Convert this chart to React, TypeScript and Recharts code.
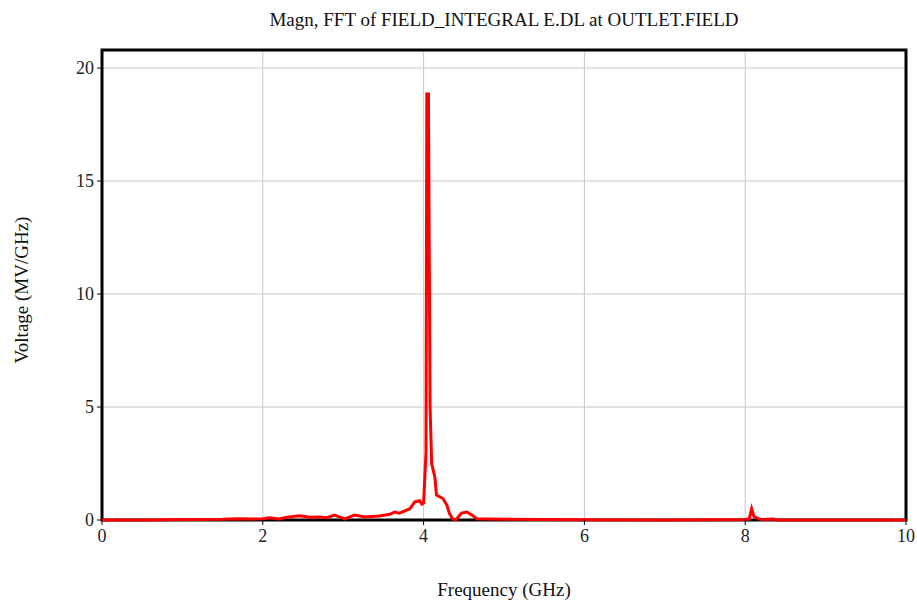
import React from "react";
import {
  LineChart,
  Line,
  XAxis,
  YAxis,
  CartesianGrid,
  ReferenceArea,
} from "recharts";

// FFT magnitude samples: frequency (GHz) and voltage (MV/GHz)
const freqs = [
  0, 0.5, 1.0, 1.5, 1.7, 1.9, 2.0, 2.08, 2.2, 2.3, 2.46, 2.58, 2.71, 2.8,
  2.89, 3.02, 3.14, 3.27, 3.35, 3.45, 3.58, 3.64, 3.7, 3.83, 3.89, 3.95,
  3.98, 4.0, 4.03, 4.04, 4.06, 4.08, 4.1, 4.14, 4.16, 4.24, 4.29, 4.32,
  4.36, 4.4, 4.47, 4.54, 4.61, 4.66, 4.8, 5.0, 5.5, 6.0, 7.0, 8.0, 8.05,
  8.08, 8.11, 8.15, 8.2, 8.35, 8.4, 9.0, 10.0,
];
const voltage = [
  0, 0, 0.02, 0.03, 0.05, 0.04, 0.06, 0.1, 0.05, 0.12, 0.19, 0.12, 0.13,
  0.1, 0.22, 0.05, 0.22, 0.13, 0.15, 0.18, 0.25, 0.35, 0.3, 0.5, 0.8, 0.85,
  0.7, 0.75, 3.0, 18.85, 18.85, 5.1, 2.5, 1.9, 1.1, 0.95, 0.65, 0.3, 0.05,
  0, 0.3, 0.35, 0.2, 0.05, 0.04, 0.03, 0.02, 0.01, 0, 0.02, 0.05, 0.5, 0.15,
  0.08, 0.02, 0.04, 0, 0, 0,
];
const xTicks = [0, 2, 4, 6, 8, 10];
const yTicks = [0, 5, 10, 15, 20];

const data = freqs.map((f, i) => ({ f, v: voltage[i] }));

const W = 917;
const H = 606;
const font = "'Liberation Serif', 'Times New Roman', serif";
const tickStyle = { fill: "#222", fontSize: 18, fontFamily: font };

export default function App() {
  return (
    <div style={{ position: "absolute", left: 0, top: 0, width: W, height: H, background: "#fff" }}>
      <LineChart
        width={W}
        height={H}
        data={data}
        margin={{ top: 50, right: 11, bottom: 0, left: 0 }}
      >
        <CartesianGrid stroke="#c8c8c8" strokeWidth={1} />
        <XAxis
          dataKey="f"
          type="number"
          domain={[0, 10]}
          ticks={xTicks}
          height={86}
          tickSize={5}
          tickMargin={4}
          axisLine={false}
          tickLine={{ stroke: "#000" }}
          tick={tickStyle}
        />
        <YAxis
          type="number"
          domain={[0, 20.8]}
          ticks={yTicks}
          width={102}
          tickSize={5}
          tickMargin={3}
          axisLine={false}
          tickLine={{ stroke: "#000" }}
          tick={tickStyle}
        />
        <ReferenceArea
          x1={0}
          x2={10}
          y1={0}
          y2={20.8}
          fill="none"
          stroke="#000"
          strokeWidth={3}
          ifOverflow="visible"
        />
        <Line
          dataKey="v"
          type="linear"
          stroke="#ff0000"
          strokeWidth={3}
          dot={false}
          isAnimationActive={false}
        />
        <text x={504} y={26} textAnchor="middle" fontFamily={font} fontSize={19} fill="#111">
          Magn, FFT of FIELD_INTEGRAL E.DL at OUTLET.FIELD
        </text>
        <text x={504} y={596} textAnchor="middle" fontFamily={font} fontSize={19} fill="#111">
          Frequency (GHz)
        </text>
        <text
          x={28}
          y={290}
          textAnchor="middle"
          fontFamily={font}
          fontSize={19}
          fill="#111"
          transform="rotate(-90 28 290)"
        >
          Voltage (MV/GHz)
        </text>
      </LineChart>
    </div>
  );
}
